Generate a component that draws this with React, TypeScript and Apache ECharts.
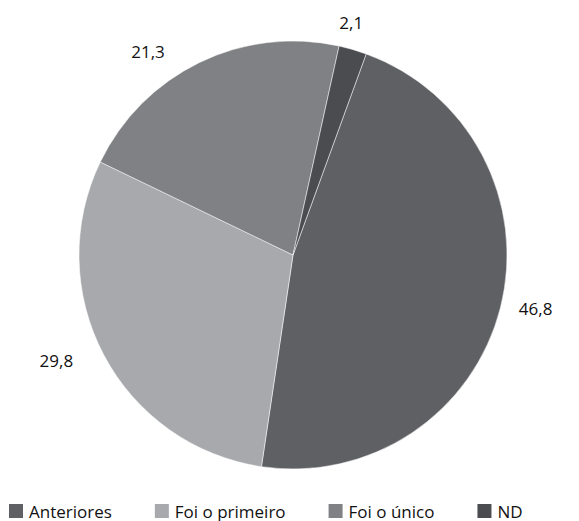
import React, { useEffect, useRef } from "react";
import * as echarts from "echarts";

const categories = ["Anteriores", "Foi o primeiro", "Foi o único", "ND"];
const values = [46.8, 29.8, 21.3, 2.1];
const valueLabels = ["46,8", "29,8", "21,3", "2,1"];
const sliceColors = ["#5f6064", "#a7a9ac", "#808184", "#4b4c50"];
// small nudges (px) for the outside value labels
const labelNudgeX = [-6, -8, -21, -24];
const labelNudgeY = [-4, -4, 7, -8];

export default function App() {
  const ref = useRef<HTMLDivElement>(null);
  useEffect(() => {
    if (!ref.current) return;
    const chart = echarts.init(ref.current, undefined, { renderer: "svg" });
    const font = "'Open Sans', 'Noto Sans', sans-serif";
    chart.setOption({
      animation: false,
      backgroundColor: "#ffffff",
      legend: {
        data: categories,
        left: 7,
        top: 501,
        padding: 0,
        itemWidth: 16,
        itemHeight: 16,
        itemGap: 41,
        icon: "rect",
        textStyle: { fontFamily: font, fontSize: 17, color: "#111", lineHeight: 20 },
      },
      series: [
        {
          type: "pie",
          center: [293, 255],
          radius: 214,
          startAngle: 70,
          clockwise: true,
          avoidLabelOverlap: false,
          itemStyle: { borderColor: "#ffffff", borderWidth: 0.5 },
          label: {
            show: true,
            position: "outside",
            fontFamily: font,
            fontSize: 17,
            color: "#111",
            distanceToLabelLine: 5,
            formatter: (p: any) => valueLabels[p.dataIndex],
          },
          labelLine: { show: false, length: 20, length2: 0 },
          labelLayout: (p: any) => ({
            dx: labelNudgeX[p.dataIndex],
            dy: labelNudgeY[p.dataIndex],
          }),
          emphasis: { disabled: true },
          data: categories.map((c, i) => ({
            name: c,
            value: values[i],
            itemStyle: { color: sliceColors[i] },
          })),
        },
      ],
    });
    return () => chart.dispose();
  }, []);
  return (
    <div
      ref={ref}
      style={{ position: "fixed", left: 0, top: 0, width: 579, height: 521 }}
    />
  );
}
